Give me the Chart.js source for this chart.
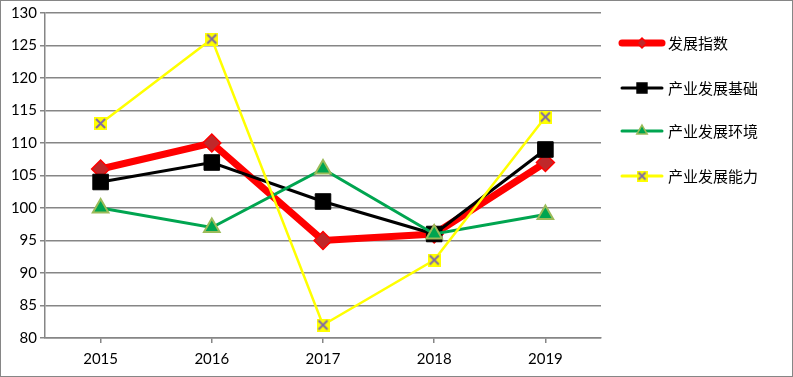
<!DOCTYPE html>
<html>
<head>
<meta charset="utf-8">
<script src="https://cdn.jsdelivr.net/npm/chart.js@4/dist/chart.umd.min.js"></script>
<style>
  body { margin: 0; background: #fff; }
  #wrap { width: 793px; height: 377px; }
</style>
</head>
<body>
<div id="wrap"><canvas id="trendChart"></canvas></div>
<script>
const years = ['2015', '2016', '2017', '2018', '2019'];
const seriesNames = ['发展指数', '产业发展基础', '产业发展环境', '产业发展能力'];
const devIndex = [106, 110, 95, 96, 107];
const industryBase = [104, 107, 101, 96, 109];
const industryEnv = [100, 97, 106, 96, 99];
const industryAbility = [113, 126, 82, 92, 114];

// yellow square with a purple x, like the office marker
function crossMarker(size) {
    const c = document.createElement('canvas');
    c.width = size; c.height = size;
    const g = c.getContext('2d');
    g.fillStyle = '#ffff00';
    g.fillRect(0, 0, size, size);
    g.strokeStyle = '#7f6aa8';
    g.lineWidth = 2;
    g.beginPath();
    g.moveTo(2, 2); g.lineTo(size - 2, size - 2);
    g.moveTo(size - 2, 2); g.lineTo(2, size - 2);
    g.stroke();
    return c;
}
const crossBig = crossMarker(13);
const crossSmall = crossMarker(11);

const legendLook = [
    { color: '#ff0000', width: 7, style: 'rectRot', radius: 5, fill: '#c0282a', border: '#ff0000' },
    { color: '#000000', width: 3, style: 'rect', radius: 7, fill: '#000000', border: '#000000' },
    { color: '#00a550', width: 3, style: 'triangle', radius: 6, fill: '#00a550', border: '#9bbb59' },
    { color: '#ffff00', width: 3, style: crossSmall, radius: 5, fill: '#ffff00', border: '#ffff00' }
];

const sideLegend = {
    id: 'sideLegend',
    beforeDraw(chart) {
        const ctx = chart.ctx;
        ctx.save();
        ctx.strokeStyle = '#868686';
        ctx.lineWidth = 1;
        ctx.strokeRect(0.5, 0.5, chart.width - 1, chart.height - 1);
        ctx.restore();
    },
    afterDraw(chart) {
        const ctx = chart.ctx;
        const rows = [43, 88, 131, 176];
        ctx.save();
        seriesNames.forEach((name, i) => {
            const l = legendLook[i];
            const y = rows[i];
            ctx.strokeStyle = l.color;
            ctx.lineWidth = l.width;
            ctx.lineCap = 'round';
            ctx.beginPath();
            ctx.moveTo(622, y);
            ctx.lineTo(662, y);
            ctx.stroke();
            ctx.fillStyle = l.fill;
            ctx.strokeStyle = l.border;
            ctx.lineWidth = 1.5;
            Chart.helpers.drawPoint(ctx, { pointStyle: l.style, radius: l.radius, rotation: 0, borderWidth: 1.5 }, 642, y);
            ctx.fillStyle = '#000';
            ctx.font = '15px "Noto Sans CJK SC"';
            ctx.textBaseline = 'middle';
            ctx.textAlign = 'left';
            ctx.fillText(name, 668, y);
        });
        ctx.restore();
    }
};

const data = {
    labels: years,
    datasets: [
        {
            label: seriesNames[0], data: devIndex, order: 4,
            borderColor: '#ff0000', borderWidth: 7,
            pointStyle: 'rectRot', pointRadius: 9,
            pointBackgroundColor: '#c0282a', pointBorderColor: '#ff0000', pointBorderWidth: 1.5
        },
        {
            label: seriesNames[1], data: industryBase, order: 3,
            borderColor: '#000000', borderWidth: 3,
            pointStyle: 'rect', pointRadius: 11,
            pointBackgroundColor: '#000000', pointBorderColor: '#000000', pointBorderWidth: 1
        },
        {
            label: seriesNames[2], data: industryEnv, order: 2,
            borderColor: '#00a550', borderWidth: 3,
            pointStyle: 'triangle', pointRadius: 9,
            pointBackgroundColor: '#00a550', pointBorderColor: '#9bbb59', pointBorderWidth: 2
        },
        {
            label: seriesNames[3], data: industryAbility, order: 1,
            borderColor: '#ffff00', borderWidth: 2.5,
            pointStyle: crossBig, pointRadius: 7
        }
    ]
};

const config = {
    type: 'line',
    data: data,
    options: {
        responsive: false,
        animation: false,
        layout: { padding: { left: 4, right: 192, top: 13, bottom: 2 } },
        plugins: {
            legend: { display: false },
            tooltip: { enabled: false }
        },
        scales: {
            x: {
                offset: true,
                grid: { display: true, offset: false, drawOnChartArea: false, drawTicks: true, tickLength: 5, color: '#868686', lineWidth: 1.5 },
                border: { color: '#868686', width: 1.5 },
                ticks: { color: '#000', padding: 7, font: { family: 'Lato', size: 15 } }
            },
            y: {
                min: 80, max: 130,
                afterFit(scale) { scale.width = 41; },
                grid: { color: '#868686', lineWidth: 1.5, tickLength: 5 },
                border: { color: '#868686', width: 1.5 },
                ticks: { stepSize: 5, color: '#000', padding: 3, font: { family: 'Lato', size: 15 } }
            }
        }
    },
    plugins: [sideLegend]
};

const canvas = document.getElementById('trendChart');
canvas.width = 793;
canvas.height = 377;
new Chart(canvas.getContext('2d'), config);
</script>
</body>
</html>
